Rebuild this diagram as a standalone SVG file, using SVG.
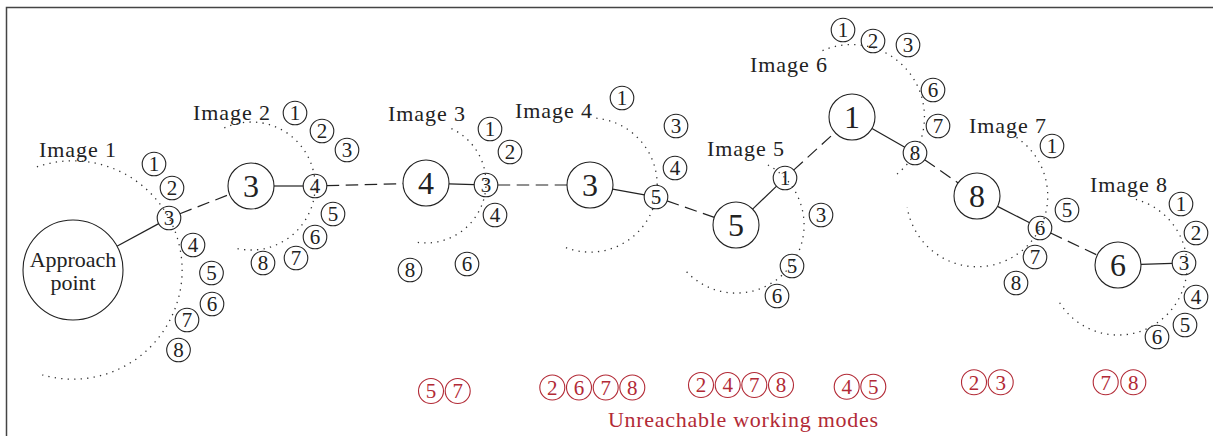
<svg xmlns="http://www.w3.org/2000/svg" width="1213" height="436" viewBox="0 0 1213 436">
<style>
text{font-family:"Liberation Serif","DejaVu Serif",serif;fill:#222}
.sm circle{fill:#fff;stroke:#222;stroke-width:1.1}
.sm text{font-size:21px;text-anchor:middle}
.lg circle{fill:#fff;stroke:#222;stroke-width:1.1}
.lg text{font-size:32px;text-anchor:middle}
.lbl{font-size:22px}
.solid{stroke:#222;stroke-width:1.2;fill:none}
.dash{stroke:#222;stroke-width:1.2;fill:none;stroke-dasharray:12.5 6.5}
.dot{stroke:#333;stroke-width:1.3;fill:none;stroke-dasharray:1.3 5.2}
.red circle{fill:none;stroke:#b22a36;stroke-width:1.1}
.red text{fill:#b22a36;font-size:21px;text-anchor:middle}
</style>
<path d="M6.5,436 V7.5 H1213" fill="none" stroke="#444" stroke-width="1.5"/>

<g id="connectors">
<line class="solid" x1="116.9" y1="246.2" x2="158.7" y2="223.6"/>
<line class="dash" x1="179.9" y1="213.7" x2="229.6" y2="194.4"/>
<line class="solid" x1="274" y1="186" x2="303.3" y2="186"/>
<line class="dash" x1="326.7" y1="185.7" x2="403" y2="183.6"/>
<line class="solid" x1="449" y1="183.8" x2="474.3" y2="184.6"/>
<line class="dash" x1="497.7" y1="185" x2="567" y2="185"/>
<line class="solid" x1="612.6" y1="189.1" x2="644.5" y2="194.9"/>
<line class="dash" x1="667" y1="200.9" x2="714.3" y2="217.4"/>
<line class="solid" x1="752.6" y1="209.1" x2="776.6" y2="186.1"/>
<line class="dash" x1="793.6" y1="170.1" x2="835" y2="132.5"/>
<line class="solid" x1="872" y1="128.4" x2="904.8" y2="147.2"/>
<line class="dash" x1="924.6" y1="159.7" x2="958.1" y2="182.9"/>
<line class="solid" x1="997.5" y1="206.4" x2="1029.6" y2="222.7"/>
<line class="dash" x1="1050.6" y1="233" x2="1097.2" y2="255.1"/>
<line class="solid" x1="1141" y1="264.3" x2="1172.3" y2="263.4"/>
</g>

<g id="approach" class="lg"><circle cx="73" cy="270" r="50"/>
<text x="73" y="267" style="font-size:22px">Approach</text><text x="73" y="290" style="font-size:22px">point</text></g>

<g id="labels">
<text class="lbl" x="39" y="157" textLength="77">Image 1</text>
<text class="lbl" x="193" y="120" textLength="77">Image 2</text>
<text class="lbl" x="388" y="121" textLength="77">Image 3</text>
<text class="lbl" x="515" y="118" textLength="77">Image 4</text>
<text class="lbl" x="707" y="156" textLength="77">Image 5</text>
<text class="lbl" x="750" y="72" textLength="77">Image 6</text>
<text class="lbl" x="969" y="133" textLength="77">Image 7</text>
<text class="lbl" x="1090" y="192" textLength="77">Image 8</text>
</g>

<g id="big-nodes">
<g id="b2" class="lg"><circle cx="251" cy="186" r="23"/><text x="251" y="197">3</text></g>
<g id="b3" class="lg"><circle cx="426" cy="183" r="23"/><text x="426" y="194">4</text></g>
<g id="b4" class="lg"><circle cx="590" cy="185" r="23"/><text x="590" y="196">3</text></g>
<g id="b5" class="lg"><circle cx="736" cy="225" r="23"/><text x="736" y="236">5</text></g>
<g id="b6" class="lg"><circle cx="852" cy="117" r="23"/><text x="852" y="128">1</text></g>
<g id="b7" class="lg"><circle cx="977" cy="196" r="23"/><text x="977" y="207">8</text></g>
<g id="b8" class="lg"><circle cx="1118" cy="265" r="23"/><text x="1118" y="276">6</text></g>
</g>

<g id="image1">
<g id="i1-1" class="sm"><circle cx="154" cy="164" r="11.8"/><text x="154" y="171.3">1</text></g>
<g id="i1-2" class="sm"><circle cx="172" cy="188" r="11.8"/><text x="172" y="195.3">2</text></g>
<g id="i1-3" class="sm"><circle cx="169" cy="218" r="11.8"/><text x="169" y="225.3">3</text></g>
<g id="i1-4" class="sm"><circle cx="193" cy="245" r="11.8"/><text x="193" y="252.3">4</text></g>
<g id="i1-5" class="sm"><circle cx="211.5" cy="273" r="11.8"/><text x="211.5" y="280.3">5</text></g>
<g id="i1-6" class="sm"><circle cx="212" cy="304" r="11.8"/><text x="212" y="311.3">6</text></g>
<g id="i1-7" class="sm"><circle cx="187" cy="320" r="11.8"/><text x="187" y="327.3">7</text></g>
<g id="i1-8" class="sm"><circle cx="178.5" cy="350" r="11.8"/><text x="178.5" y="357.3">8</text></g>
</g>
<g id="image2">
<g id="i2-1" class="sm"><circle cx="295" cy="113" r="11.8"/><text x="295" y="120.3">1</text></g>
<g id="i2-2" class="sm"><circle cx="322" cy="131" r="11.8"/><text x="322" y="138.3">2</text></g>
<g id="i2-3" class="sm"><circle cx="347" cy="150" r="11.8"/><text x="347" y="157.3">3</text></g>
<g id="i2-4" class="sm"><circle cx="315" cy="186" r="11.8"/><text x="315" y="193.3">4</text></g>
<g id="i2-5" class="sm"><circle cx="333" cy="214" r="11.8"/><text x="333" y="221.3">5</text></g>
<g id="i2-6" class="sm"><circle cx="315" cy="237" r="11.8"/><text x="315" y="244.3">6</text></g>
<g id="i2-7" class="sm"><circle cx="296" cy="258" r="11.8"/><text x="296" y="265.3">7</text></g>
<g id="i2-8" class="sm"><circle cx="263" cy="263" r="11.8"/><text x="263" y="270.3">8</text></g>
</g>
<g id="image3">
<g id="i3-1" class="sm"><circle cx="490" cy="129" r="11.8"/><text x="490" y="136.3">1</text></g>
<g id="i3-2" class="sm"><circle cx="510" cy="152" r="11.8"/><text x="510" y="159.3">2</text></g>
<g id="i3-3" class="sm"><circle cx="486" cy="185" r="11.8"/><text x="486" y="192.3">3</text></g>
<g id="i3-4" class="sm"><circle cx="495" cy="215" r="11.8"/><text x="495" y="222.3">4</text></g>
<g id="i3-6" class="sm"><circle cx="467" cy="264" r="11.8"/><text x="467" y="271.3">6</text></g>
<g id="i3-8" class="sm"><circle cx="410" cy="270" r="11.8"/><text x="410" y="277.3">8</text></g>
</g>
<g id="image4">
<g id="i4-1" class="sm"><circle cx="622" cy="98" r="11.8"/><text x="622" y="105.3">1</text></g>
<g id="i4-3" class="sm"><circle cx="676" cy="126" r="11.8"/><text x="676" y="133.3">3</text></g>
<g id="i4-4" class="sm"><circle cx="675" cy="168" r="11.8"/><text x="675" y="175.3">4</text></g>
<g id="i4-5" class="sm"><circle cx="656" cy="197" r="11.8"/><text x="656" y="204.3">5</text></g>
</g>
<g id="image5">
<g id="i5-1" class="sm"><circle cx="785" cy="178" r="11.8"/><text x="785" y="185.3">1</text></g>
<g id="i5-3" class="sm"><circle cx="821" cy="215" r="11.8"/><text x="821" y="222.3">3</text></g>
<g id="i5-5" class="sm"><circle cx="792" cy="266" r="11.8"/><text x="792" y="273.3">5</text></g>
<g id="i5-6" class="sm"><circle cx="777" cy="296" r="11.8"/><text x="777" y="303.3">6</text></g>
</g>
<g id="image6">
<g id="i6-1" class="sm"><circle cx="843" cy="30" r="11.8"/><text x="843" y="37.3">1</text></g>
<g id="i6-2" class="sm"><circle cx="873" cy="41" r="11.8"/><text x="873" y="48.3">2</text></g>
<g id="i6-3" class="sm"><circle cx="908" cy="45" r="11.8"/><text x="908" y="52.3">3</text></g>
<g id="i6-6" class="sm"><circle cx="933" cy="90" r="11.8"/><text x="933" y="97.3">6</text></g>
<g id="i6-7" class="sm"><circle cx="938" cy="126" r="11.8"/><text x="938" y="133.3">7</text></g>
<g id="i6-8" class="sm"><circle cx="915" cy="153" r="11.8"/><text x="915" y="160.3">8</text></g>
</g>
<g id="image7">
<g id="i7-1" class="sm"><circle cx="1052" cy="146" r="11.8"/><text x="1052" y="153.3">1</text></g>
<g id="i7-5" class="sm"><circle cx="1067" cy="210" r="11.8"/><text x="1067" y="217.3">5</text></g>
<g id="i7-6" class="sm"><circle cx="1040" cy="228" r="11.8"/><text x="1040" y="235.3">6</text></g>
<g id="i7-7" class="sm"><circle cx="1035" cy="257" r="11.8"/><text x="1035" y="264.3">7</text></g>
<g id="i7-8" class="sm"><circle cx="1016" cy="283" r="11.8"/><text x="1016" y="290.3">8</text></g>
</g>
<g id="image8">
<g id="i8-1" class="sm"><circle cx="1181" cy="204" r="11.8"/><text x="1181" y="211.3">1</text></g>
<g id="i8-2" class="sm"><circle cx="1196" cy="233" r="11.8"/><text x="1196" y="240.3">2</text></g>
<g id="i8-3" class="sm"><circle cx="1184" cy="263" r="11.8"/><text x="1184" y="270.3">3</text></g>
<g id="i8-4" class="sm"><circle cx="1196" cy="297" r="11.8"/><text x="1196" y="304.3">4</text></g>
<g id="i8-5" class="sm"><circle cx="1185" cy="325" r="11.8"/><text x="1185" y="332.3">5</text></g>
<g id="i8-6" class="sm"><circle cx="1157" cy="337" r="11.8"/><text x="1157" y="344.3">6</text></g>
</g>

<g id="reach-arcs">
<path class="dot" d="M36.9,166.9 A109.2,109.2 0 1 1 42.3,374.8"/>
<path class="dot" d="M224.3,127.9 A64,64 0 1 1 233.4,247.5"/>
<path class="dot" d="M451.4,128.6 A60,60 0 0 1 417.1,242.3"/>
<path class="dot" d="M596.3,118.2 A67.1,67.1 0 1 1 564.9,247.2"/>
<path class="dot" d="M767.9,165 A68,68 0 1 1 685.1,270.1"/>
<path class="dot" d="M822.5,50.7 A72.6,72.6 0 0 1 896.7,174.2"/>
<path class="dot" d="M1016.5,137.4 A70.7,70.7 0 1 1 907.2,207.1"/>
<path class="dot" d="M1135.9,199.4 A69,69 0 1 1 1057.7,299.5"/>
</g>

<g id="unreachable">
<g id="u3" class="red"><circle cx="431" cy="391" r="12.5"/><text x="431" y="398.3">5</text><circle cx="457.7" cy="391" r="12.5"/><text x="457.7" y="398.3">7</text></g>
<g id="u4" class="red"><circle cx="552.3" cy="387.5" r="12.5"/><text x="552.3" y="394.8">2</text><circle cx="579" cy="387.5" r="12.5"/><text x="579" y="394.8">6</text><circle cx="605.7" cy="387.5" r="12.5"/><text x="605.7" y="394.8">7</text><circle cx="632.3" cy="387.5" r="12.5"/><text x="632.3" y="394.8">8</text></g>
<g id="u5" class="red"><circle cx="701" cy="385" r="12.5"/><text x="701" y="392.3">2</text><circle cx="727.7" cy="385" r="12.5"/><text x="727.7" y="392.3">4</text><circle cx="754.3" cy="385" r="12.5"/><text x="754.3" y="392.3">7</text><circle cx="781" cy="385" r="12.5"/><text x="781" y="392.3">8</text></g>
<g id="u6" class="red"><circle cx="846.7" cy="386.7" r="12.5"/><text x="846.7" y="394">4</text><circle cx="873.3" cy="386.7" r="12.5"/><text x="873.3" y="394">5</text></g>
<g id="u7" class="red"><circle cx="974" cy="382.3" r="12.5"/><text x="974" y="389.6">2</text><circle cx="1000.7" cy="382.3" r="12.5"/><text x="1000.7" y="389.6">3</text></g>
<g id="u8" class="red"><circle cx="1105.7" cy="382.3" r="12.5"/><text x="1105.7" y="389.6">7</text><circle cx="1133.3" cy="382.3" r="12.5"/><text x="1133.3" y="389.6">8</text></g>
<text x="608" y="427" textLength="270" style="font-size:22px;fill:#b22a36">Unreachable working modes</text>
</g>
</svg>
